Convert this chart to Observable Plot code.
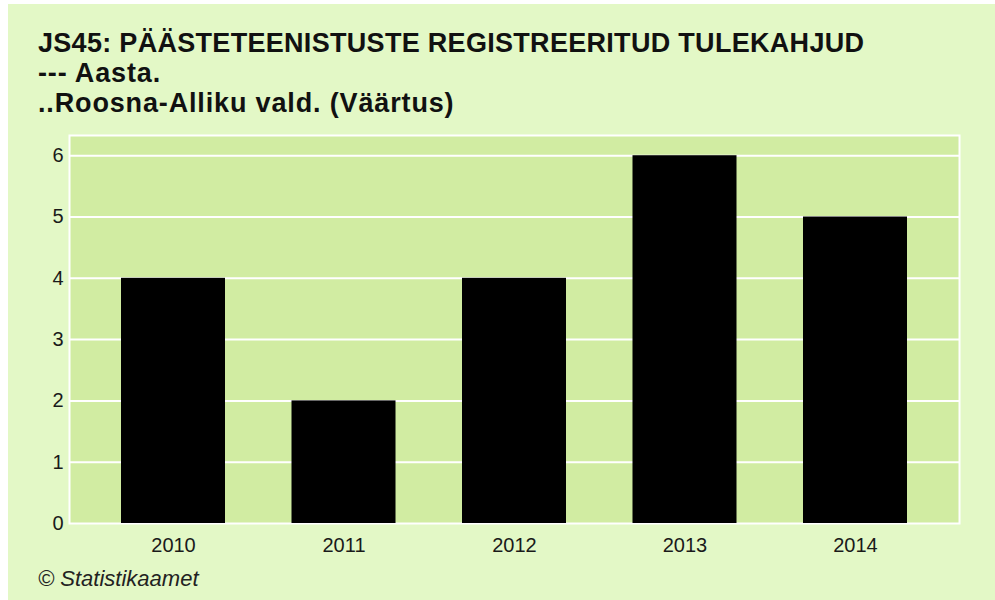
<!DOCTYPE html>
<html>
<head>
<meta charset="utf-8">
<script src="https://cdn.jsdelivr.net/npm/d3@7"></script>
<script src="https://cdn.jsdelivr.net/npm/@observablehq/plot@0.6"></script>
<style>
  html, body { margin: 0; padding: 0; background: #ffffff; }
  #wrap { position: absolute; left: 8px; top: 4px; width: 987px; height: 596px; background: #e3f8c6; overflow: hidden; }
  #title { position: absolute; left: 30px; top: 24px; margin: 0; font-family: "Liberation Sans", Arial, sans-serif; font-weight: bold; font-size: 27px; line-height: 30px; color: #111; white-space: nowrap; }
  #title .l0 { letter-spacing: 0.3px; }
  #title .l1, #title .l2 { letter-spacing: 0.85px; }
  #chart { position: absolute; left: 0; top: 120px; }
  #caption { position: absolute; left: 30px; top: 564px; margin: 0; font-family: "Liberation Sans", Arial, sans-serif; font-style: italic; font-size: 22px; line-height: 21px; color: #222; white-space: nowrap; }
</style>
</head>
<body>
<div id="wrap">
  <div id="title"></div>
  <div id="chart"></div>
  <div id="caption"></div>
</div>
<script>
const titleLines = [
  "JS45: PÄÄSTETEENISTUSTE REGISTREERITUD TULEKAHJUD",
  "--- Aasta.",
  "..Roosna-Alliku vald. (Väärtus)"
];
const captionText = "© Statistikaamet";
const years = ["2010", "2011", "2012", "2013", "2014"];
const values = [4, 2, 4, 6, 5];
const yTicks = [0, 1, 2, 3, 4, 5, 6];
const gridValues = [1, 2, 3, 4, 5, 6];

const data = years.map((y, i) => ({year: y, value: values[i]}));

document.getElementById("title").innerHTML = titleLines.map((t, i) => `<div class="l${i}">${t}</div>`).join("");
document.getElementById("caption").textContent = captionText;

const chart = Plot.plot({
  width: 987,
  height: 440,
  marginLeft: 61,
  marginRight: 36,
  marginTop: 11,
  marginBottom: 41,
  style: {background: "transparent", fontFamily: "'Liberation Sans', Arial, sans-serif", fontSize: "20px", color: "#1a1a1a"},
  x: {domain: years, paddingInner: 0.39, paddingOuter: 0.305, round: false, label: null},
  y: {domain: [0, 6.33], label: null},
  marks: [
    Plot.frame({fill: "#d1eca2", stroke: "white", strokeWidth: 2}),
    Plot.ruleY(gridValues, {stroke: "white", strokeWidth: 2}),
    Plot.barY(data, {x: "year", y: "value", fill: "black"}),
    Plot.axisX({tickSize: 0, tickPadding: 14, fontSize: 20, label: null}),
    Plot.axisY({ticks: yTicks, tickSize: 0, tickPadding: 6, fontSize: 20, label: null, tickFormat: d => String(d)})
  ]
});
document.getElementById("chart").appendChild(chart);
</script>
</body>
</html>
